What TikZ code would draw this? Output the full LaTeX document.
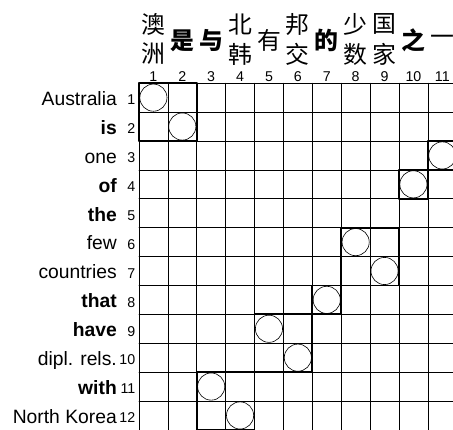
\documentclass[tikz,border=0pt]{standalone}
\usepackage{fontspec}
\setmainfont{Liberation Sans}
\newfontfamily\cjk{Noto Sans CJK SC}
\begin{document}
\begin{tikzpicture}[line join=round, line cap=round,
	tu/.style={font=\fontsize{19}{22}\selectfont, anchor=base east, inner sep=0pt},
	tudam/.style={tu, font=\fontsize{19}{22}\selectfont\bfseries},
	so/.style={font=\fontsize{14}{16}\selectfont, inner sep=0pt},
	chu/.style={font=\cjk\fontsize{23.5}{26}\selectfont, inner sep=0pt},
	chudam/.style={chu, font=\cjk\bfseries\fontsize{23.5}{26}\selectfont}]
	\def\r{0.47}
	\useasboundingbox (-4.81,-12) rectangle (10.87,2.88);
	
	% Lưới ô vuông
	\draw[line width=0.6pt] (0,0) grid (11,-12);
	
	% Các khối đậm
	\draw[line width=1.8pt]
	(0,0) rectangle (2,-2)
	(10,-2) rectangle (11,-3)
	(9,-3) rectangle (10,-4)
	(7,-5) rectangle (9,-7)
	(6,-7) rectangle (7,-8)
	(4,-8) rectangle (6,-10)
	(2,-10) rectangle (4,-12);
	
	% Các vòng tròn
	\foreach \x/\y in {1/1,2/2,11/3,10/4,8/6,9/7,7/8,5/9,6/10,3/11,4/12}
	\draw[line width=0.6pt] (\x-0.5,-\y+0.5) circle (\r);
	
	% Chữ bên trái
	\foreach \i/\w in {1/Australia,3/one,6/few,7/countries,10/{dipl. rels.},12/{North Korea}}
	\node[tu] (w\i) at (-0.76,{-\i+0.5-0.27}) {\w};
	\foreach \i/\w in {2/is,4/of,5/the,8/that,9/have,11/with}
	\node[tudam] (w\i) at (-0.76,{-\i+0.5-0.27}) {\w};
	
	% Số hàng, số cột
	\foreach \i in {1,...,12}
	\node[so, anchor=base east] (r\i) at (-0.12,{-\i+0.5-0.25}) {\i};
	\foreach \j in {1,...,11}
	\node[so, anchor=base] (c\j) at (\j-0.5,0.07) {\j};
	
	% Chữ Hán phía trên
	\node[chu] (z1a) at (0.5,2.04) {澳};
	\node[chu] (z1b) at (0.5,1.01) {洲};
	\node[chudam] (z2) at (1.5,1.48) {是};
	\node[chudam] (z3) at (2.5,1.48) {与};
	\node[chu] (z4a) at (3.5,2.04) {北};
	\node[chu] (z4b) at (3.5,1.01) {韩};
	\node[chu] (z5) at (4.5,1.48) {有};
	\node[chu] (z6a) at (5.5,2.04) {邦};
	\node[chu] (z6b) at (5.5,1.01) {交};
	\node[chudam] (z7) at (6.5,1.48) {的};
	\node[chu] (z8a) at (7.5,2.04) {少};
	\node[chu] (z8b) at (7.5,1.01) {数};
	\node[chu] (z9a) at (8.5,2.04) {国};
	\node[chu] (z9b) at (8.5,1.01) {家};
	\node[chudam] (z10) at (9.5,1.48) {之};
	\node[chu] (z11) at (10.5,1.48) {一};
\end{tikzpicture}
\end{document}
